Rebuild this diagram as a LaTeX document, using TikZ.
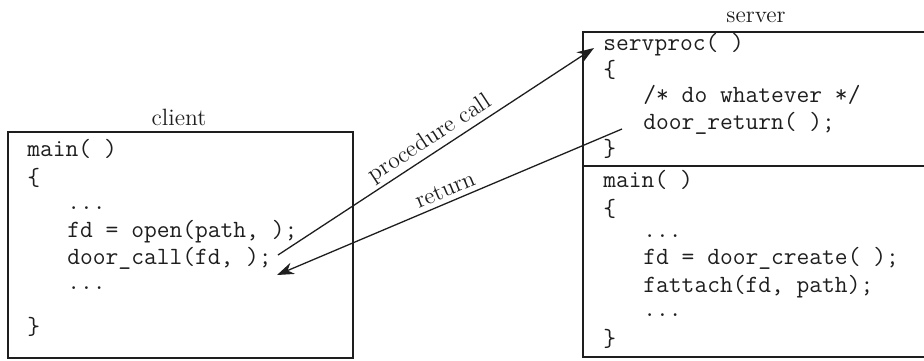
\documentclass[tikz,border=0pt]{standalone}
\usetikzlibrary{arrows.meta}
\definecolor{ink}{RGB}{30,30,30}
\begin{document}
\begin{tikzpicture}[x=0.5pt,y=-0.5pt,
  code/.style={font=\fontsize{12.4}{14}\selectfont\ttfamily, anchor=mid west, inner sep=0pt, text=ink},
  lbl/.style={font=\fontsize{11.8}{14}\selectfont, inner sep=0pt, text=ink},
  frame/.style={draw=ink, line width=0.7pt},
  conn/.style={draw=ink, line width=0.65pt, -{Stealth[length=8.5pt,width=6pt]}}]
\useasboundingbox (0,0) rectangle (924,360);
% client box
\draw[frame] (8,132) rectangle (353,358);
\node[lbl] (clientlbl) at (179,117) {client};
\node[code] (c1) at (27,152) {main( )};
\node[code] (c2) at (27,181) {\{};
\node[code] (c3) at (67,205) {...};
\node[code] (c4) at (67,233) {fd = open(path, );};
\node[code] (c5) at (67,260) {door\_call(fd, );};
\node[code] (c6) at (67,285) {...};
\node[code] (c7) at (27,330) {\}};
% server box
\draw[frame] (924,32) -- (583,32) -- (583,357) -- (924,357);
\draw[frame] (583,166) -- (924,166);
\node[lbl] (serverlbl) at (756,17) {server};
\node[code] (s1) at (603,46) {servproc( )};
\node[code] (s2) at (603,73) {\{};
\node[code] (s3) at (643,98) {/* do whatever */};
\node[code] (s4) at (643,125) {door\_return( );};
\node[code] (s5) at (603,152) {\}};
\node[code] (m1) at (603,183) {main( )};
\node[code] (m2) at (603,212) {\{};
\node[code] (m3) at (643,233) {...};
\node[code] (m4) at (643,260) {fd = door\_create( );};
\node[code] (m5) at (643,288) {fattach(fd, path);};
\node[code] (m6) at (643,312) {...};
\node[code] (m7) at (603,342) {\}};
% connectors
\coordinate (pcs) at (278,255);
\coordinate (pce) at (594,48);
\coordinate (rts) at (622,129);
\coordinate (rte) at (277,275);
\draw[conn] (pcs) -- (pce);
\draw[conn] (rts) -- (rte);
\node[lbl, rotate=33.3] (pclbl) at (430,139) {procedure call};
\node[lbl, rotate=22.9] (rtlbl) at (445,190) {return};
\end{tikzpicture}
\end{document}
